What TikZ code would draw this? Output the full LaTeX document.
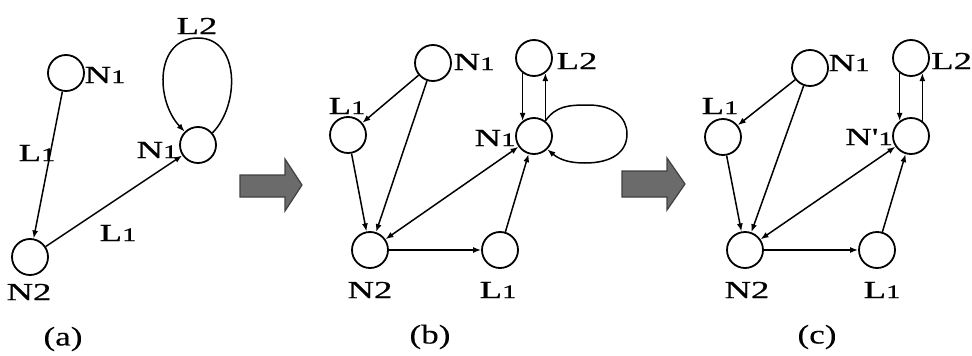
\documentclass[tikz,border=0pt]{standalone}
\usepackage{fontspec}
\setmainfont{Liberation Serif}
\newfontfamily\lblfont[FakeStretch=1.5,FakeBold=0.6]{Liberation Serif}
\newfontfamily\capfont[FakeStretch=1.3,FakeBold=0.2]{Liberation Serif}
\usetikzlibrary{arrows.meta}
\newcommand{\one}{{\fontsize{19}{19}\selectfont 1}}
\tikzset{
  vtx/.style={circle,draw,line width=1.8pt,minimum size=36pt,inner sep=0pt},
  lbl/.style={font=\lblfont\fontsize{24.5}{26}\selectfont,inner sep=0pt},
  captxt/.style={font=\capfont\fontsize{27}{28}\selectfont,inner sep=0pt},
  arr/.style={-{Latex[length=8pt,width=6pt]},line width=1.5pt},
  barr/.style={{Latex[length=8pt,width=6pt]}-{Latex[length=8pt,width=6pt]},line width=1.5pt},
  bigarrow/.style={fill=black!58,draw=black!75,line width=1.2pt}
}
\begin{document}
\begin{tikzpicture}[x=1pt,y=-1pt]
\useasboundingbox (0,0) rectangle (972,356);
% ---------- (a)
\node[vtx] (aN1) at (66,73) {};
\node[vtx] (aN1r) at (198,145) {};
\node[vtx] (aN2) at (30,257) {};
\draw[arr] (aN1) -- (aN2);
\draw[arr] (aN2) -- (aN1r);
\draw[arr] (aN1r.40) .. controls (240,105) and (240,38) .. (198,38)
  .. controls (155,38) and (155,100) .. (aN1r.135);
\node[lbl] (taN1) at (105,75) {N\one};
\node[lbl] (taN1r) at (157,150) {N\one};
\node[lbl] (taL1) at (37,153) {L\one};
\node[lbl] (taL1b) at (118,233) {L\one};
\node[lbl] (taL2) at (197,26) {L2};
\node[lbl] (taN2) at (29,292) {N2};
\node[captxt] (capa) at (63,339) {(a)};
% ---------- big arrow 1
\path[bigarrow] (240,175) -- (285,175) -- (285,159) -- (302,185) -- (285,211) -- (285,197) -- (240,197) -- cycle;
% ---------- (b)
\node[vtx] (bN1) at (433,63) {};
\node[vtx] (bL2) at (534,58) {};
\node[vtx] (bL1) at (348,135) {};
\node[vtx] (bN) at (534,136) {};
\node[vtx] (bN2) at (370,250) {};
\node[vtx] (bL1b) at (500,250) {};
\draw[arr] (bN1) -- (bL1);
\draw[arr] (bN1) -- (bN2);
\draw[arr] (bL1) -- (bN2);
\draw[barr] (bN2) -- (bN);
\draw[arr] (bN2) -- (bL1b);
\draw[arr] (bL1b) -- (bN);
\draw[arr] (bL2.233) -- (bN.127);
\draw[arr] (bN.53) -- (bL2.307);
\draw[arr] (bN.53) .. controls (556,106) and (568,105) .. (588,105)
  .. controls (614,105) and (627,118) .. (627,134)
  .. controls (627,152) and (612,163) .. (585,163)
  .. controls (570,163) and (560,160) .. (bN.-45);
\node[lbl] (tbN1) at (474,62) {N\one};
\node[lbl] (tbL1) at (347,106) {L\one};
\node[lbl] (tbL2) at (577,61) {L2};
\node[lbl] (tbN) at (495,138) {N\one};
\node[lbl] (tbN2) at (370,290) {N2};
\node[lbl] (tbL1b) at (498,290) {L\one};
\node[captxt] (capb) at (430,337) {(b)};
% ---------- big arrow 2
\path[bigarrow] (622,171) -- (667,171) -- (667,158) -- (685,184) -- (667,210) -- (667,197) -- (622,197) -- cycle;
% ---------- (c)
\node[vtx] (cN1) at (810,68) {};
\node[vtx] (cL2) at (911,58) {};
\node[vtx] (cL1) at (723,137) {};
\node[vtx] (cN) at (911,136) {};
\node[vtx] (cN2) at (745,250) {};
\node[vtx] (cL1b) at (877,250) {};
\draw[arr] (cN1) -- (cL1);
\draw[arr] (cN1) -- (cN2);
\draw[arr] (cL1) -- (cN2);
\draw[barr] (cN2) -- (cN);
\draw[arr] (cN2) -- (cL1b);
\draw[arr] (cL1b) -- (cN);
\draw[arr] (cL2.233) -- (cN.127);
\draw[arr] (cN.53) -- (cL2.307);
\node[lbl] (tcN1) at (849,63) {N\one};
\node[lbl] (tcL1) at (720,106) {L\one};
\node[lbl,anchor=west] (tcL2) at (931,61) {L2};
\node[lbl] (tcN) at (869,137) {N'\one};
\node[lbl] (tcN2) at (747,290) {N2};
\node[lbl] (tcL1b) at (882,290) {L\one};
\node[captxt] (capc) at (817,337) {(c)};
\end{tikzpicture}
\end{document}
